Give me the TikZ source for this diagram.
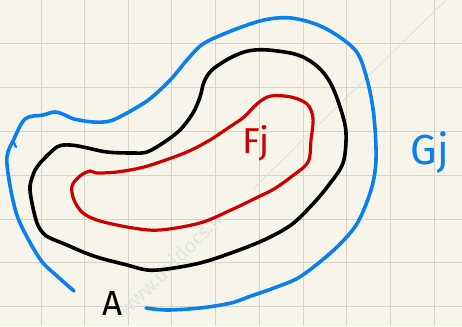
\documentclass[tikz,border=0pt]{standalone}
\usepackage{fontspec}
\setmainfont{Fira Sans}
\definecolor{paper}{HTML}{F7F5EA}
\definecolor{gridgray}{HTML}{D6D4C6}
\definecolor{penblue}{HTML}{0A80F0}
\definecolor{penred}{HTML}{CC0000}
\definecolor{faintcyan}{HTML}{DCE6E6}
\tikzset{
  pen/.style={line width=3.6pt, line cap=round, line join=round},
  label/.style={inner sep=0pt, font=\fontsize{34}{34}\selectfont},
}
\begin{document}
\begin{tikzpicture}[x=1pt, y=-1pt]
  % paper and square grid
  \fill[paper] (0,0) rectangle (462,326);
  \useasboundingbox (0,0) rectangle (462,326);
  \foreach \gx in {41,84.5,128,171.5,215,259,303,346,390,434}
    \draw[gridgray, line width=1pt] (\gx,0) -- (\gx,326);
  \foreach \gy in {0,43.5,87.5,131,175,219,262.5,306}
    \draw[gridgray, line width=1pt] (0,\gy) -- (462,\gy);

  % faint diagonal stroke and stamp
  \coordinate (d1) at (446,0);
  \coordinate (d2) at (253,189);
  \draw[faintcyan, line width=1.2pt] (d1) -- (d2);
  \node[faintcyan, rotate=45, font=\fontsize{20}{20}\selectfont, anchor=south west, inner sep=0pt] (stamp) at (128,318) {www.uuidocs.n};

  % outer open curve G_j
  \draw[pen, penblue] plot[smooth, tension=0.55] coordinates {
    (74,291) (57,276) (40,259) (20,223) (12,196) (7,165) (8,152) (13,141)
    (25,119) (43,115) (55,112) (65,115) (74,119) (93,122) (110,121)
    (127,113) (147,101) (160,90) (173,77) (187,60) (203,44) (231,31)
    (264,20) (291,18) (318,25) (341,38) (358,54) (368,83) (374,117)
    (376,160) (371,190) (358,222) (341,243) (321,261) (298,278) (274,288)
    (251,296) (231,303) (200,308) (167,310) (146,308)};
  \draw[pen, penblue, line width=2.4pt] (13,141) -- (16,147);

  % middle closed curve
  \draw[pen, black] plot[smooth cycle, tension=0.55] coordinates {
    (40,163) (57,147) (70,145) (83,147) (107,152) (133,153) (147,152)
    (163,143) (180,130) (193,113) (200,97) (204,82) (212,70) (230,58)
    (248,51) (268,50) (298,55) (318,67) (331,84) (341,110)
    (346,133) (343,163) (328,186) (311,206) (291,225) (264,240) (231,253)
    (200,263) (167,269) (147,270) (127,265) (100,258) (83,252) (67,245)
    (50,238) (43,233) (37,223) (32,203) (30,186) (35,170)};

  % inner closed curve F_j
  \draw[pen, penred, line width=3.2pt] plot[smooth cycle, tension=0.55] coordinates {
    (157,163) (187,152) (210,140) (231,126) (244,117) (258,103) (271,96)
    (291,97) (307,104) (313,118) (311,140) (308,162) (291,177) (274,189)
    (258,197) (231,210) (200,223) (160,230) (133,228) (100,221) (83,213)
    (74,200) (72,186) (80,176) (90,171) (97,173) (117,172) (140,168)};

  % labels
  \node[label, penred, font=\fontsize{36}{36}\selectfont] (fj) at (256,143) {Fj};
  \node[label, penblue, font=\fontsize{42}{42}\selectfont] (gj) at (430,153) {Gj};
  \node[label, black, font=\fontsize{35}{35}\selectfont] (a) at (113,303) {A};
\end{tikzpicture}
\end{document}
